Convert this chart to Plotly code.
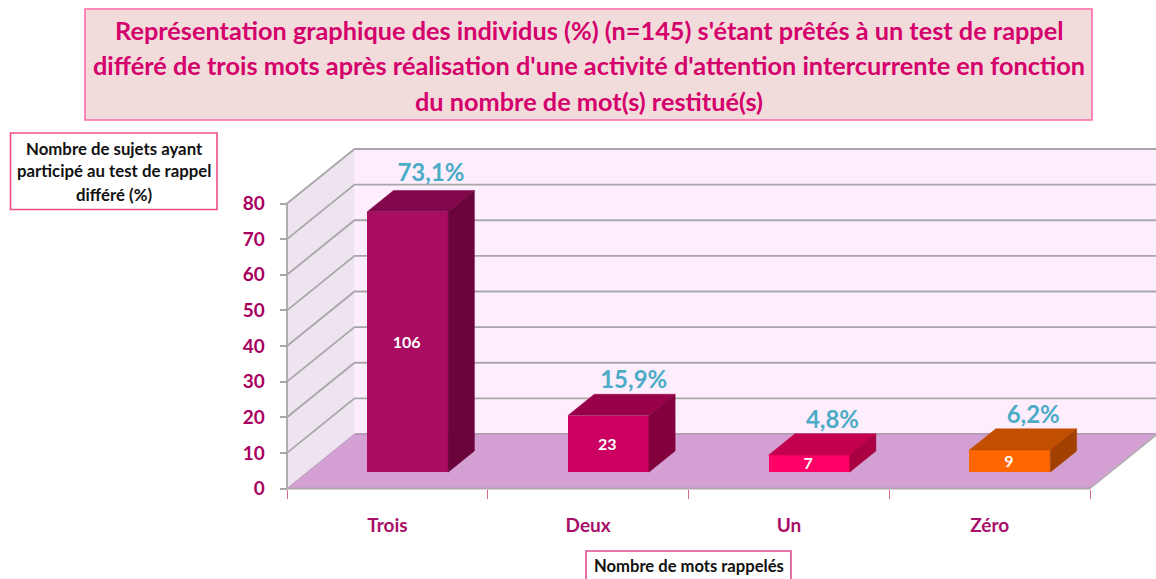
import plotly.graph_objects as go

categories = ["Trois", "Deux", "Un", "Zéro"]
percentages = [73.1, 15.9, 4.8, 6.2]
counts = [106, 23, 7, 9]
pct_labels = ["73,1%", "15,9%", "4,8%", "6,2%"]
y_ticks = [0, 10, 20, 30, 40, 50, 60, 70, 80]

front_colors = ["#A90C60", "#CC0060", "#FF0066", "#FF6600"]
top_colors = ["#82064B", "#99004A", "#C4004E", "#C24E00"]
side_colors = ["#6B043C", "#82003C", "#A80040", "#A24000"]

TITLE_LINES = ["Représentation graphique des individus (%) (n=145) s'étant prêtés à un test de rappel",
               "différé de trois mots après réalisation d'une activité d'attention intercurrente en fonction",
               "du nombre de mot(s) restitué(s)"]
Y_TITLE_LINES = ["Nombre de sujets ayant", "participé au test de rappel", "différé (%)"]
X_TITLE = "Nombre de mots rappelés"

W, H = 1156, 579
X0_PX, X4_PX = 287.0, 1090.0
Y0_PX, Y80_PX = 488.5, 203.5
UX = (X4_PX - X0_PX) / 4
UY = (Y0_PX - Y80_PX) / 80
x_range = [-X0_PX / UX, (W - X0_PX) / UX]
y_range = [(Y0_PX - H) / UY, Y0_PX / UY]

# oblique projection of the depth direction, in axis units
DEPTH_X = 67.5 / UX
DEPTH_Y = 54.5 / UY
BAR_W = 0.403
D_FRONT, D_BACK = 0.30, 0.69


def px(x):
    return (x - x_range[0]) / (x_range[1] - x_range[0])


def py(y):
    return (y - y_range[0]) / (y_range[1] - y_range[0])


def project(x, y, d):
    return x + d * DEPTH_X, y + d * DEPTH_Y


fig = go.Figure()
shapes = []


def poly(points, fill, line=None, width=0):
    path = "M " + " L ".join(f"{a},{b}" for a, b in points) + " Z"
    shapes.append(dict(type="path", path=path, xref="x", yref="y", layer="below",
                       fillcolor=fill, line=dict(color=line or fill, width=width)))


def seg(points, color="#A8A6A8", width=1.8):
    path = "M " + " L ".join(f"{a},{b}" for a, b in points)
    shapes.append(dict(type="path", path=path, xref="x", yref="y", layer="below",
                       line=dict(color=color, width=width)))


top = y_ticks[-1]
n = len(categories)
poly([project(0, 0, 1), project(n, 0, 1), project(n, top, 1), project(0, top, 1)], "#FEEEFD")
poly([project(0, 0, 0), project(0, 0, 1), project(0, top, 1), project(0, top, 0)], "#EEE4F0")
poly([project(0, 0, 0), project(n, 0, 0), project(n, 0, 1), project(0, 0, 1)], "#D4A0D4")

for t in y_ticks[1:]:
    seg([project(0, t, 0), project(0, t, 1), project(n, t, 1)])
seg([project(0, 0, 1), project(n, 0, 1)], color="#B79CB9")
seg([project(0, 0, 0), project(0, top, 0)])
seg([project(0, 0, 0), project(0, 0, 1)], color="#B79CB9", width=1)
seg([project(n, 0, 0), project(n, 0, 1)], color="#AFAFAF", width=1.5)
seg([project(0, 0, 0), project(n, 0, 0)], color="#AFA3AF", width=2)

centers = [i + 0.5 for i in range(n)]
front_x = [project(c, 0, D_FRONT)[0] for c in centers]
base_y = project(0, 0, D_FRONT)[1]

fig.add_trace(go.Bar(x=front_x, y=percentages, base=[base_y] * n, width=BAR_W,
                     marker=dict(color=front_colors, line=dict(width=0)), showlegend=False,
                     hoverinfo="skip"))

for cx, v, ct, cs in zip(front_x, percentages, top_colors, side_colors):
    l, r = cx - BAR_W / 2, cx + BAR_W / 2
    dd = D_BACK - D_FRONT
    b, t = base_y, base_y + v
    top_pts = [(l, t), (r, t), project(r, t, dd), project(l, t, dd), (l, t)]
    side_pts = [(r, b), project(r, b, dd), project(r, t, dd), (r, t), (r, b)]
    for pts, col in ((top_pts, ct), (side_pts, cs)):
        fig.add_trace(go.Scatter(x=[p[0] for p in pts], y=[p[1] for p in pts], mode="lines",
                                 fill="toself", fillcolor=col, line=dict(color=col, width=0.5),
                                 showlegend=False, hoverinfo="skip"))

# count labels, centred on the front faces
fig.add_trace(go.Scatter(x=[x - 1 / UX for x in front_x], y=[base_y + v / 2 - 0.5 for v in percentages],
                         mode="text", text=[str(c) for c in counts], textposition="middle center",
                         textfont=dict(family="Lato", size=16, color="white", weight="bold"),
                         showlegend=False, hoverinfo="skip", cliponaxis=False))

# percentage labels, above the back edge of the top faces
dd = D_BACK - D_FRONT
pct_x = [project(cx, 0, dd)[0] - 3 / UX for cx in front_x]
pct_y = [project(0, base_y + v, dd)[1] for v in percentages]
pct_y[0] += 3 / UY
pct_x[1] += 2 / UX
fig.add_trace(go.Scatter(x=pct_x, y=pct_y, mode="text", text=pct_labels, textposition="top center",
                         textfont=dict(family="Lato", size=24, color="#4BACC6", weight="bold"),
                         showlegend=False, hoverinfo="skip", cliponaxis=False))


def box(x0, y0, x1, y1, fill, border, width=1.6):
    shapes.append(dict(type="rect", xref="paper", yref="paper", layer="below",
                       x0=x0 / W, x1=x1 / W, y0=1 - y1 / H, y1=1 - y0 / H,
                       fillcolor=fill, line=dict(color=border, width=width)))


box(85, 9, 1092, 120, "#F2DCDB", "#FF69AC")
box(10.5, 133, 217, 209.5, "white", "#EE4C88")
box(586, 551, 791, 585, "white", "#DC4C8C")


def note(text, cx, cy, size, color):
    fig.add_annotation(text=text, xref="paper", yref="paper", x=cx / W, y=1 - cy / H, showarrow=False,
                       xanchor="center", yanchor="middle", align="center",
                       font=dict(family="Lato", size=size, color=color, weight="bold"))


for line, cy in zip(TITLE_LINES, (30, 65, 101)):
    note(line, 589, cy, 25.3, "#D4006C")
for line, cy in zip(Y_TITLE_LINES, (148, 171, 195)):
    note(line, 114, cy, 16.8, "#111111")
note(X_TITLE, 688.5, 566, 16.6, "#111111")

fig.update_layout(
    width=W, height=H, autosize=False, margin=dict(l=0, r=0, t=0, b=0),
    paper_bgcolor="white", plot_bgcolor="rgba(0,0,0,0)", showlegend=False, shapes=shapes,
    bargap=0,
    xaxis=dict(range=x_range, domain=[0, 1], anchor="free", position=py(0), showgrid=False, zeroline=False,
               showline=False, tickmode="array", tickvals=centers, ticktext=categories,
               ticks="outside", ticklen=20, tickcolor="rgba(0,0,0,0)",
               tickfont=dict(family="Lato", size=19, color="#A80F68", weight="bold"),
               minor=dict(tickmode="array", tickvals=list(range(n + 1)), ticks="outside", ticklen=9,
                          tickcolor="#D86A86", tickwidth=1.2, showgrid=False)),
    yaxis=dict(range=y_range, domain=[0, 1], anchor="free", position=px(0), showgrid=False, zeroline=False,
               showline=False, tickmode="array", tickvals=y_ticks, ticktext=[str(t) for t in y_ticks],
               ticks="outside", ticklen=7.5, tickcolor="#A8A6A8", tickwidth=1.5, ticklabelstandoff=11,
               tickfont=dict(family="Lato", size=19, color="#A80060", weight="bold")),
)

fig.write_html("out.html", config={"displayModeBar": False},
               post_script="document.body.style.margin='0';")
